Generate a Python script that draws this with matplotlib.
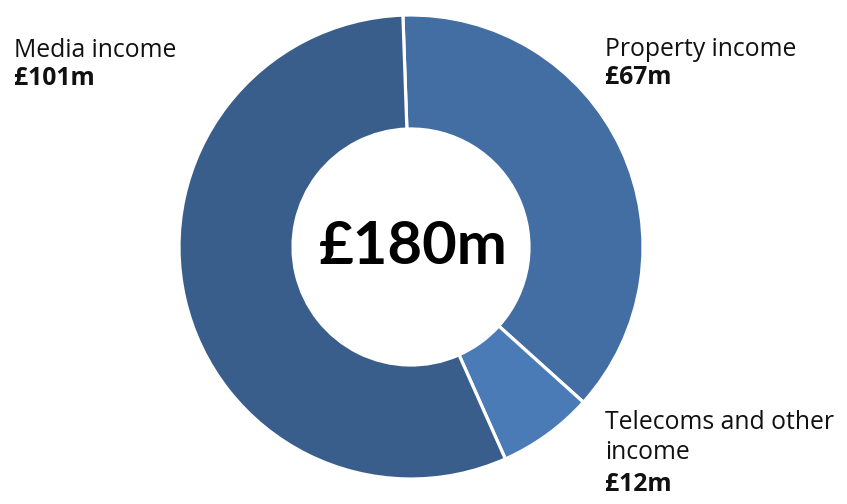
import matplotlib.pyplot as plt

plt.rcParams['font.family'] = ['Lato', 'DejaVu Sans']

segments = ['Property income', 'Telecoms and other\nincome', 'Media income']
values = [67, 12, 101]
amount_labels = ['£67m', '£12m', '£101m']
total_label = '£180m'
colors = ['#436ea3', '#4a7bb6', '#3a5e8b']

W, H = 847, 504
fig = plt.figure(figsize=(W / 100, H / 100), dpi=100)
ax = fig.add_axes([0, 0, 1, 1])

# pixel-like coordinates, y measured from the bottom
cx, cy = 411, H - 247
radius = 232
ring = 114 / 232

ax.pie(values, colors=colors, startangle=92, counterclock=False,
       center=(cx, cy), radius=radius,
       wedgeprops=dict(width=radius * ring, edgecolor='white', linewidth=2.3))
ax.set_xlim(0, W)
ax.set_ylim(0, H)
ax.set_aspect('equal')
ax.axis('off')

ax.text(cx + 2, cy, total_label, ha='center', va='center', fontsize=43,
        fontweight='bold', color='black')

# labels: name lines, then the amount in bold
label_font = ['Open Sans', 'DejaVu Sans']
label_spots = {
    0: (605, [56, 84]),
    1: (605, [429, 459, 491]),
    2: (14, [57, 85]),
}
for i, (x, baselines) in label_spots.items():
    lines = segments[i].split('\n')
    for line, y in zip(lines, baselines):
        ax.text(x, H - y, line, ha='left', va='baseline', fontsize=17.8,
                family=label_font, color='#111111')
    ax.text(x, H - baselines[-1], amount_labels[i], ha='left', va='baseline',
            fontsize=17.8, fontweight='bold', family=label_font, color='#111111')

fig.savefig('out.png', dpi=100)
